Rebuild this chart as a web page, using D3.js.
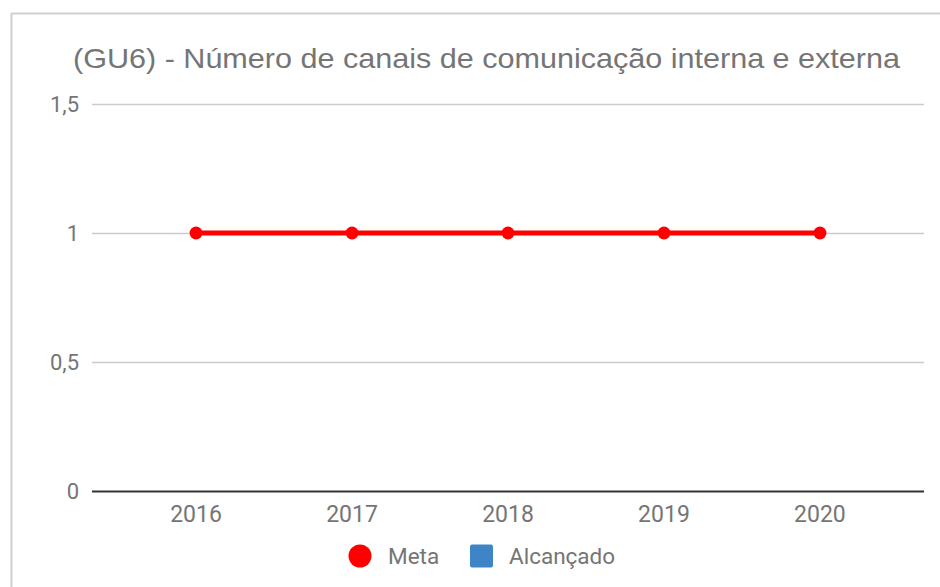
<!DOCTYPE html>
<html>
<head>
<meta charset="utf-8">
<script src="https://cdn.jsdelivr.net/npm/d3@7"></script>
<style>
  body { margin: 0; background: #fff; }
  svg { font-family: Roboto, "Noto Sans", sans-serif; }
</style>
</head>
<body>
<div class="chart"></div>
<script>
// data
let years = ["2016", "2017", "2018", "2019", "2020"];
let meta = [1, 1, 1, 1, 1];
let alcancado = [];
let yTicks = [0, 0.5, 1, 1.5];
let seriesNames = ["Meta", "Alcançado"];
let seriesColors = ["#ff0000", "#3d85c6"];

let width = 940;
let height = 587;

let svg = d3.select(".chart")
  .append("svg")
  .attr("width", width)
  .attr("height", height);

// frame (top and left edges visible)
svg.append("line")
  .attr("x1", 11).attr("x2", width)
  .attr("y1", 13.5).attr("y2", 13.5)
  .attr("stroke", "#cfcfcf").attr("stroke-width", 2);
svg.append("line")
  .attr("x1", 11.5).attr("x2", 11.5)
  .attr("y1", 13).attr("y2", height)
  .attr("stroke", "#cfcfcf").attr("stroke-width", 2);

svg.append("text")
  .attr("x", 486.5)
  .attr("y", 68)
  .attr("text-anchor", "middle")
  .attr("font-family", "'Liberation Sans', Arial, sans-serif")
  .attr("font-size", 28.5)
  .attr("textLength", 827)
  .attr("lengthAdjust", "spacingAndGlyphs")
  .attr("fill", "#757575")
  .text("(GU6) - Número de canais de comunicação interna e externa");

let plotLeft = 92, plotRight = 924, plotTop = 104, plotBottom = 491;

let x = d3.scalePoint().domain(years).range([plotLeft, plotRight]).padding(0.667);
let y = d3.scaleLinear().domain([0, 1.5]).range([plotBottom, plotTop]);
let fmt = d => d3.format("")(d).replace(".", ",");

// gridlines
svg.append("g")
  .selectAll("line")
  .data(yTicks.filter(d => d > 0))
  .enter().append("line")
  .attr("x1", plotLeft).attr("x2", plotRight)
  .attr("y1", d => y(d) + 0.5).attr("y2", d => y(d) + 0.5)
  .attr("stroke", "#cccccc")
  .attr("stroke-width", 1.3);

// y labels
svg.append("g")
  .selectAll("text")
  .data(yTicks)
  .enter().append("text")
  .attr("x", 79)
  .attr("y", d => y(d) + 8)
  .attr("text-anchor", "end")
  .attr("font-size", 22)
  .attr("fill", "#757575")
  .text(fmt);

// baseline
svg.append("line")
  .attr("x1", plotLeft).attr("x2", plotRight)
  .attr("y1", y(0) + 0.5).attr("y2", y(0) + 0.5)
  .attr("stroke", "#333")
  .attr("stroke-width", 2);

// x labels
svg.append("g")
  .selectAll("text")
  .data(years)
  .enter().append("text")
  .attr("x", d => x(d))
  .attr("y", 522)
  .attr("text-anchor", "middle")
  .attr("font-size", 23)
  .attr("fill", "#757575")
  .text(d => d);

// Meta line
let line = d3.line()
  .x((d, i) => x(years[i]))
  .y(d => y(d));

svg.append("path")
  .datum(meta)
  .attr("d", line)
  .attr("fill", "none")
  .attr("stroke", seriesColors[0])
  .attr("stroke-width", 5);

svg.append("g")
  .selectAll("circle")
  .data(meta)
  .enter().append("circle")
  .attr("cx", (d, i) => x(years[i]))
  .attr("cy", d => y(d))
  .attr("r", 6.5)
  .attr("fill", seriesColors[0]);

// legend
let legend = svg.append("g").attr("transform", "translate(0,556)");
legend.append("circle")
  .attr("cx", 360).attr("cy", 0).attr("r", 11.5)
  .attr("fill", seriesColors[0]);
legend.append("text")
  .attr("x", 388).attr("y", 7.5)
  .attr("font-size", 22.5)
  .attr("fill", "#757575")
  .text(seriesNames[0]);
legend.append("rect")
  .attr("x", 470).attr("y", -11.5)
  .attr("width", 23).attr("height", 23)
  .attr("rx", 2)
  .attr("fill", seriesColors[1]);
legend.append("text")
  .attr("x", 509).attr("y", 7.5)
  .attr("font-size", 22.5)
  .attr("fill", "#757575")
  .text(seriesNames[1]);
</script>
</body>
</html>
